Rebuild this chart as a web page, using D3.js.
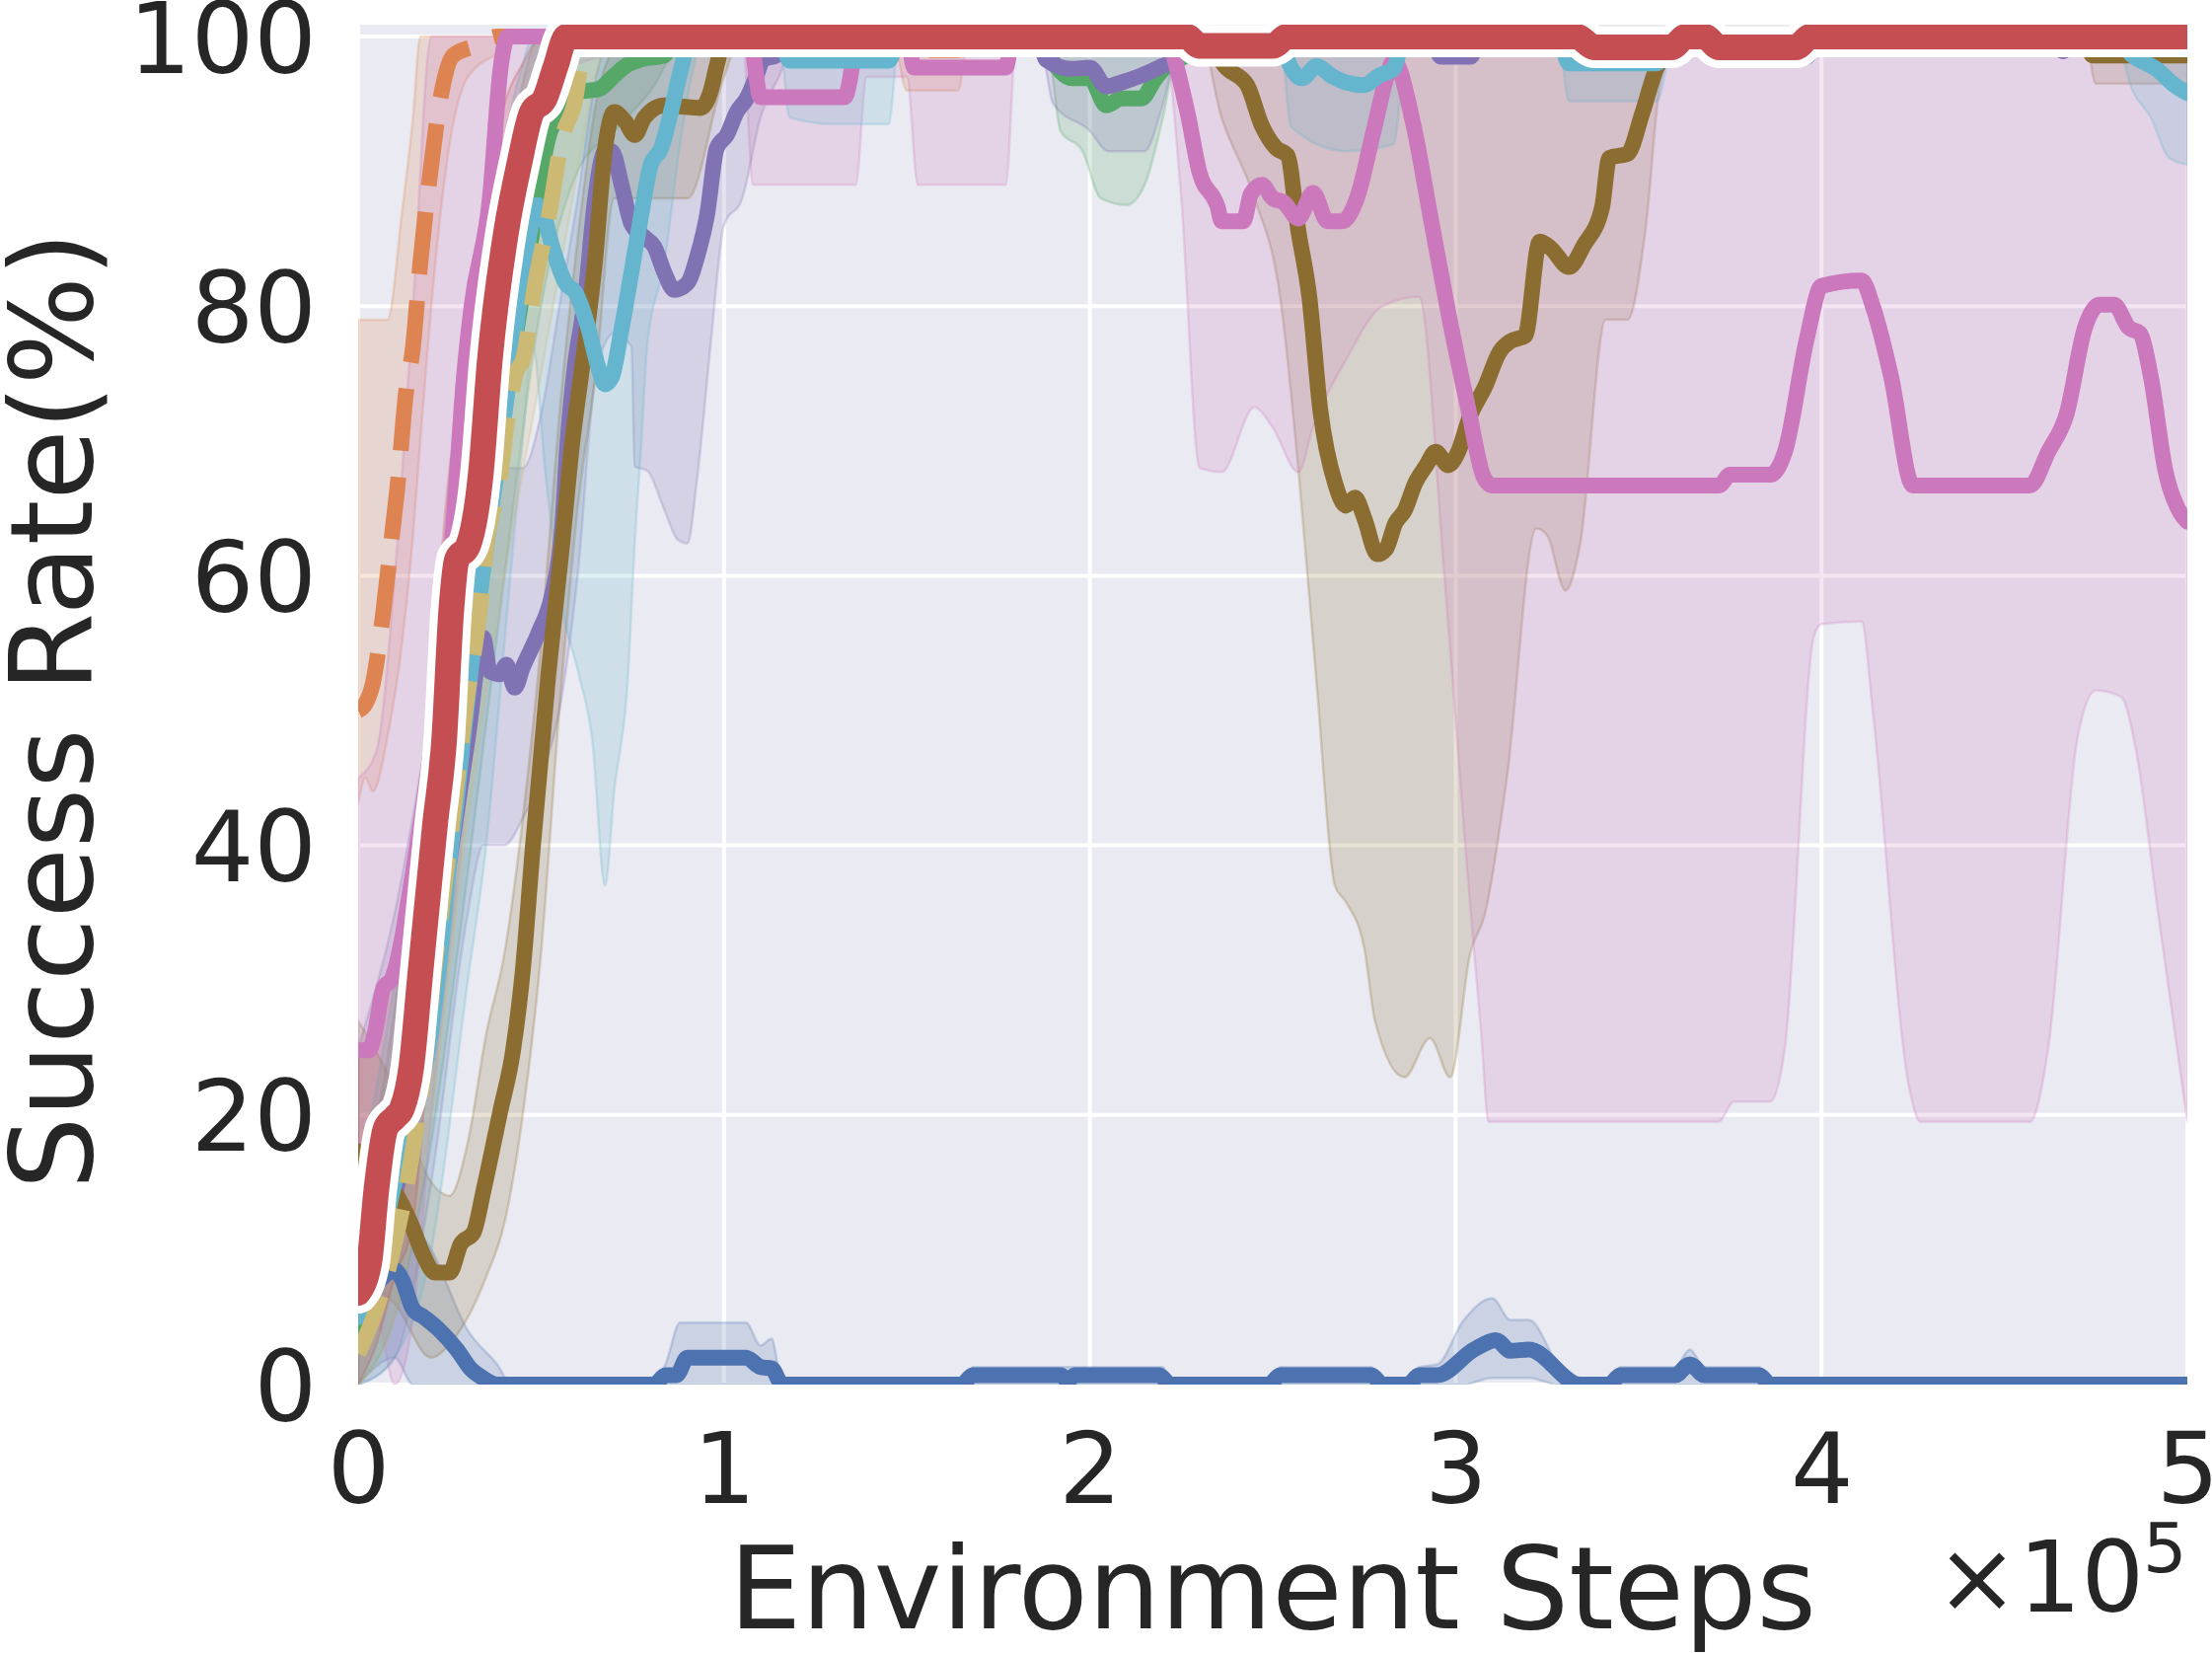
<!DOCTYPE html>
<html><head><meta charset="utf-8">
<script src="https://cdn.jsdelivr.net/npm/d3@7"></script>
<style>html,body{margin:0;padding:0;background:#fff;} svg{display:block;}</style>
</head><body><svg id="c" width="2242" height="1675"></svg>
<script>
// x values are in units of 1e5 environment steps; y is success rate in %
const xTicks = [0, 1, 2, 3, 4, 5];
const yTicks = [0, 20, 40, 60, 80, 100];

const blue = [[0,6],[0.05,7.5],[0.1,8.5],[0.12,7.8],[0.15,5.6],[0.18,5.0],[0.22,4.1],[0.27,2.6],[0.31,1.1],[0.34,0.5],[0.38,0],[0.81,0],[0.84,0.7],[0.87,0.7],[0.9,2],[1.06,2],[1.1,1.3],[1.13,1.2],[1.16,0],[1.65,0],[1.68,0.7],[1.92,0.7],[1.94,0.3],[1.96,0.7],[2.19,0.7],[2.22,0],[2.49,0],[2.52,0.7],[2.77,0.7],[2.8,0],[2.87,0],[2.9,0.7],[2.95,0.7],[3.05,2.6],[3.11,3.3],[3.15,2.5],[3.2,2.6],[3.34,0],[3.42,0],[3.45,0.7],[3.6,0.7],[3.64,1.5],[3.68,0.7],[3.83,0.7],[3.86,0],[5,0]];
const orange = [[0,50],[0.02,50.5],[0.04,52],[0.07,57.6],[0.09,62.4],[0.11,67.3],[0.13,73.4],[0.15,77],[0.17,83.2],[0.2,90.5],[0.225,95.4],[0.26,98.6],[0.32,99.3],[0.38,100],[1.48,100],[1.5,99],[1.64,99],[1.66,100],[5,100]];
const green = [[0,4],[0.05,8],[0.1,15],[0.15,25],[0.2,35],[0.25,45],[0.32,59],[0.37,68],[0.423,76.5],[0.477,85.6],[0.52,92.5],[0.56,94.5],[0.603,95.9],[0.657,96.1],[0.7,97.1],[0.73,97.8],[0.774,98.3],[0.837,98.6],[0.87,100],[1.87,100],[1.89,98.6],[1.92,97.4],[1.95,96.9],[2.0,96.9],[2.045,94.9],[2.087,95.4],[2.14,95.4],[2.18,96.9],[2.22,98.1],[2.265,98.6],[2.29,100],[5,100]];
const purple = [[0,8],[0.1,14],[0.2,30],[0.3,48],[0.342,55.4],[0.36,52.9],[0.388,52.7],[0.405,53.4],[0.428,51.7],[0.45,53.2],[0.495,55.9],[0.53,58.6],[0.558,63.7],[0.572,69.8],[0.59,75],[0.621,80.7],[0.648,88],[0.675,91.5],[0.693,91.5],[0.72,89],[0.747,86.1],[0.783,85.1],[0.81,84.4],[0.837,82.5],[0.864,81.2],[0.9,81.7],[0.927,83.7],[0.954,86.8],[0.98,91.7],[1.008,92.7],[1.035,94.4],[1.062,95.4],[1.089,97.1],[1.107,98.3],[1.143,98.6],[1.17,100],[1.86,100],[1.88,98.3],[1.95,97.6],[2.0,97.7],[2.045,96.3],[2.087,96.6],[2.14,97.1],[2.197,97.8],[2.22,98.1],[2.25,100],[2.93,100],[2.96,98.5],[3.04,98.5],[3.07,100],[3.71,100],[3.74,98.4],[3.82,98.4],[3.85,100],[3.94,100],[3.96,98.5],[3.99,100],[4.63,100],[4.66,98.9],[4.69,100],[5,100]];
const brown = [[0,17.3],[0.05,15.5],[0.1,14.3],[0.145,11.9],[0.18,9.5],[0.21,8.3],[0.25,8.3],[0.28,10.4],[0.316,11.3],[0.342,14.3],[0.388,20.2],[0.423,24.7],[0.45,30.7],[0.477,39.7],[0.52,52.7],[0.558,62.4],[0.585,69.8],[0.61,75],[0.647,83.2],[0.675,91.7],[0.7,94.4],[0.73,93.7],[0.756,92.7],[0.783,94],[0.837,94.9],[0.936,94.7],[0.963,95.9],[0.98,97.8],[1.0,99.7],[1.03,100],[2.3,100],[2.376,97.6],[2.43,96.4],[2.47,93.4],[2.51,91.7],[2.54,91.2],[2.57,85.6],[2.6,80.7],[2.63,72.3],[2.67,66.9],[2.7,65.2],[2.725,65.8],[2.75,64.3],[2.786,61.6],[2.81,62],[2.835,63.9],[2.86,64.8],[2.89,66.9],[2.92,68.2],[2.945,69.2],[2.98,68.2],[3.007,69.2],[3.04,71.9],[3.08,74],[3.12,76.6],[3.15,77.4],[3.19,77.8],[3.23,84.8],[3.26,84.3],[3.31,82.9],[3.35,84.5],[3.4,87.3],[3.42,91],[3.47,91.3],[3.51,94.3],[3.55,97.7],[3.58,98.8],[3.6,100],[4.72,100],[4.74,98.6],[5,98.6]];
const pink = [[0,24.8],[0.03,24.8],[0.045,26],[0.07,29.5],[0.09,30],[0.15,38],[0.22,52],[0.26,63.7],[0.29,75],[0.31,80],[0.36,88],[0.39,97.8],[0.41,100],[1.07,100],[1.1,95.5],[1.33,95.5],[1.37,100],[1.5,100],[1.52,97.7],[1.77,97.7],[1.79,100],[2.2,100],[2.265,94.6],[2.3,89.9],[2.35,87.3],[2.36,86.3],[2.42,86.3],[2.44,88.3],[2.47,89],[2.5,88],[2.53,87.7],[2.57,86.5],[2.61,88.4],[2.65,86.3],[2.69,86.3],[2.73,88],[2.775,92.9],[2.815,97.3],[2.83,98.2],[2.885,93.4],[2.93,86.8],[2.98,79.5],[3.036,72.2],[3.077,67.3],[3.1,66.7],[3.72,66.7],[3.75,67.5],[3.86,67.5],[3.9,69.2],[3.96,77.6],[4.0,81.5],[4.11,81.9],[4.14,80],[4.19,74.8],[4.25,66.7],[4.57,66.7],[4.62,69.2],[4.67,72],[4.72,78.4],[4.76,80.1],[4.8,80.1],[4.84,78.4],[4.87,78],[4.9,74.8],[4.94,67.8],[4.98,64.7],[5,64]];
const yellow = [[0,2.3],[0.046,5.3],[0.08,8.3],[0.145,16.7],[0.18,23.2],[0.208,30.7],[0.235,36.7],[0.262,42.8],[0.294,50.2],[0.333,57.6],[0.351,62.4],[0.388,67.3],[0.405,71],[0.432,75.1],[0.45,76],[0.486,82],[0.522,86.8],[0.558,92.5],[0.594,95.4],[0.608,97.8],[0.62,98.6],[0.65,100],[5,100]];
const cyan = [[0,5],[0.05,9],[0.1,15],[0.15,20],[0.2,26.2],[0.226,32.2],[0.253,39.7],[0.27,43.5],[0.28,46.1],[0.333,58.6],[0.38,68],[0.43,78],[0.46,84],[0.49,87.5],[0.51,86.5],[0.531,84.4],[0.567,81.7],[0.594,81],[0.63,78.3],[0.657,75.4],[0.675,74.2],[0.693,74.7],[0.72,78.3],[0.747,82.5],[0.774,86.8],[0.8,90.5],[0.828,91.7],[0.855,94.4],[0.88,97.3],[0.909,99.8],[0.93,100],[1.15,100],[1.18,98.2],[1.45,98.2],[1.48,100],[2.52,100],[2.54,98.3],[2.58,96.9],[2.62,97.8],[2.66,97.1],[2.7,96.6],[2.75,96.4],[2.79,97.1],[2.83,97.6],[2.86,100],[3.28,100],[3.31,98],[3.55,98],[3.58,100],[4.8,100],[4.85,98.6],[4.92,97.5],[4.96,96.5],[5,95.8]];
const red = [[0,6.8],[0.03,9],[0.05,14.5],[0.075,19],[0.1,19.8],[0.12,20.5],[0.145,23.5],[0.17,30.5],[0.21,41.5],[0.235,47.8],[0.255,57.6],[0.27,61.2],[0.3,62.2],[0.335,67.5],[0.36,76],[0.405,85.6],[0.44,90.5],[0.475,94.4],[0.51,95.4],[0.54,97.8],[0.57,100],[2.265,100],[2.3,99.3],[2.5,99.3],[2.54,100],[3.33,100],[3.38,99.2],[3.59,99.2],[3.63,100],[3.68,100],[3.72,99.2],[3.93,99.2],[3.97,100],[5,100]];

// confidence bands: [x, lower, upper]
const blueBand = [[0,0,15],[0.1,2,14],[0.15,0,12],[0.2,0,10],[0.3,0,4],[0.38,0,1.5],[0.42,0,0],[0.8,0,0],[0.84,0,1.5],[0.88,0,4.6],[1.06,0,4.6],[1.1,0,2.9],[1.13,0,3.4],[1.16,0,0],[1.66,0,0],[1.68,0,1.3],[1.93,0,1.3],[1.96,0,1.3],[2.2,0,1.3],[2.22,0,0],[2.5,0,0],[2.52,0,1.3],[2.77,0,1.3],[2.8,0,0],[2.87,0,0],[2.9,0,1.3],[2.95,0,1.5],[3.02,0,4.7],[3.1,0.5,6.4],[3.15,0.5,4.8],[3.2,0.5,4.8],[3.28,0,1.5],[3.34,0,0],[3.42,0,0],[3.45,0,1.3],[3.6,0,1.3],[3.64,0,2.6],[3.68,0,1.3],[3.83,0,1.3],[3.86,0,0],[5,0,0]];
const orangeBand = [[0,43,79],[0.02,45,79],[0.04,44,79],[0.08,48,79],[0.12,55,87],[0.15,63,94],[0.17,70,100],[0.2,80,100],[0.25,92,100],[0.3,97,100],[0.4,99,100],[0.45,100,100],[1.46,100,100],[1.5,96,100],[1.64,96,100],[1.67,100,100],[5,100,100]];
const greenBand = [[0,0,12],[0.1,5,28],[0.2,18,52],[0.3,38,75],[0.4,60,90],[0.5,80,100],[0.6,90,100],[0.7,93,100],[0.8,96,100],[0.9,100,100],[1.88,100,100],[1.92,93,100],[1.98,91.5,100],[2.03,88,100],[2.1,87.5,100],[2.15,89,100],[2.2,94,100],[2.25,100,100],[5,100,100]];
const purpleBand = [[0,0,25],[0.1,2,35],[0.2,15,50],[0.3,35,65],[0.342,40,70],[0.4,40,68],[0.45,42,68],[0.5,45,72],[0.55,50,80],[0.6,60,88],[0.65,75,97],[0.7,78,100],[0.747,77,100],[0.756,68.1,100],[0.79,67.8,100],[0.837,64.9,100],[0.873,62.7,100],[0.9,62.4,100],[0.927,67.3,100],[0.963,77,100],[1.0,86,100],[1.05,88,100],[1.1,94,100],[1.15,97,100],[1.2,100,100],[1.86,100,100],[1.9,95,100],[2.0,93,100],[2.05,91.5,100],[2.15,91.5,100],[2.2,95,100],[2.25,100,100],[5,100,100]];
const brownBand = [[0,8,27],[0.1,6,22],[0.2,2,15],[0.25,3,14],[0.3,5,18],[0.35,8,26],[0.4,12,32],[0.45,20,42],[0.5,32,55],[0.55,50,72],[0.6,65,85],[0.65,75,95],[0.7,88,99],[0.8,88,100],[0.9,88,100],[1.0,97,100],[1.05,100,100],[2.3,100,100],[2.36,94,100],[2.45,88,100],[2.52,80.7,100],[2.57,67.9,100],[2.62,52,100],[2.67,37,100],[2.7,35.8,100],[2.75,32.4,100],[2.78,26.9,100],[2.86,22.8,100],[2.93,25.7,100],[2.985,22.8,100],[3.04,32,100],[3.08,34.9,100],[3.14,45,100],[3.22,63.5,100],[3.25,63,100],[3.3,58.9,100],[3.34,62.3,100],[3.41,79,100],[3.47,79,100],[3.52,85.9,100],[3.56,96.6,100],[3.62,100,100],[4.72,100,100],[4.75,96.5,100],[5,96.5,100]];
const pinkBand = [[0,5,45],[0.05,5,47],[0.1,0,60],[0.15,5,80],[0.2,20,100],[0.3,45,100],[0.4,80,100],[0.5,97,100],[1.05,100,100],[1.08,89,100],[1.36,89,100],[1.39,97,100],[1.5,97,100],[1.53,89,100],[1.77,89,100],[1.8,100,100],[2.2,100,100],[2.25,88,100],[2.3,68,100],[2.36,67.7,100],[2.45,72.5,100],[2.5,71,100],[2.57,67.7,100],[2.61,71,100],[2.7,76,100],[2.8,80,100],[2.9,80.7,100],[2.97,59.7,100],[3.03,38.7,100],[3.07,26,100],[3.09,19.5,100],[3.72,19.5,100],[3.76,21,100],[3.86,21,100],[3.9,25,100],[3.98,55.6,100],[4.0,56.4,100],[4.11,56.6,100],[4.14,50,100],[4.24,22,100],[4.27,19.5,100],[4.57,19.5,100],[4.62,25,100],[4.7,48,100],[4.75,51.5,100],[4.82,51,100],[4.86,47,100],[4.92,35,100],[5,19.5,100]];
const yellowBand = [[0,0,8],[0.1,5,20],[0.2,20,40],[0.3,42,62],[0.4,60,80],[0.5,75,92],[0.6,90,100],[0.65,97,100],[0.7,100,100],[5,100,100]];
const cyanBand = [[0,0,15],[0.1,2,30],[0.2,10,50],[0.3,30,72],[0.35,40,82],[0.4,55,92],[0.45,70,98],[0.477,77,100],[0.513,67.3,100],[0.558,57.6,100],[0.603,52.7,100],[0.64,47.8,100],[0.675,37,100],[0.7,44,100],[0.738,52.7,100],[0.756,62.4,100],[0.774,69.8,100],[0.79,77,100],[0.837,83.2,100],[0.88,92,100],[0.93,99,100],[0.96,100,100],[1.15,100,100],[1.18,94,100],[1.3,93.5,100],[1.45,93.5,100],[1.48,100,100],[2.52,100,100],[2.55,93.3,100],[2.7,91.5,100],[2.83,92,100],[2.87,100,100],[3.28,100,100],[3.31,95.2,100],[3.55,95.2,100],[3.6,100,100],[4.8,100,100],[4.85,96,100],[4.9,94,100],[4.95,91,100],[5,90.5,100]];
const redBand = [[0,0,25],[0.05,3,26],[0.1,8,32],[0.15,12,38],[0.2,28,52],[0.25,45,68],[0.3,52,74],[0.35,62,88],[0.4,75,95],[0.45,84,98],[0.5,90,100],[0.55,96,100],[0.6,100,100],[2.26,100,100],[2.3,98.5,100],[2.5,98.5,100],[2.54,100,100],[5,100,100]];

const series = [
  {data: blue,   band: blueBand,   color: "#4C72B0"},
  {data: orange, band: orangeBand, color: "#DD8452", dash: true},
  {data: green,  band: greenBand,  color: "#55A868"},
  {data: purple, band: purpleBand, color: "#8172B3"},
  {data: brown,  band: brownBand,  color: "#8C6D31"},
  {data: pink,   band: pinkBand,   color: "#CC78BC"},
  {data: cyan,   band: cyanBand,   color: "#64B5CD"},
  {data: yellow, band: yellowBand, color: "#CCB974", dash: true},
  {data: red,    band: redBand,    color: "#C44E52", hero: true}
];

const svg = d3.select("#c");
const P = {left: 363, right: 2217, top: 25, bottom: 1403};
const x = d3.scaleLinear().domain([0, 5]).range([P.left, P.right]);
const y = d3.scaleLinear().domain([0, 100.88]).range([P.bottom, P.top]);
const FONT = "DejaVu Sans, sans-serif";
const TXT = "#262626";

svg.append("rect").attr("x",0).attr("y",0).attr("width",2242).attr("height",1675).attr("fill","#fff");
svg.append("rect").attr("x",P.left).attr("y",P.top).attr("width",P.right-P.left).attr("height",P.bottom-P.top).attr("fill","#EAEAF2");

svg.append("defs").append("clipPath").attr("id","clip")
  .append("rect").attr("x",P.left).attr("y",P.top).attr("width",P.right-P.left).attr("height",P.bottom-P.top);

// grid
const grid = svg.append("g");
grid.selectAll("line.v").data(xTicks).join("line")
  .attr("x1",d=>x(d)).attr("x2",d=>x(d)).attr("y1",P.top).attr("y2",P.bottom)
  .attr("stroke","#fff").attr("stroke-width",4);
grid.selectAll("line.h").data(yTicks).join("line")
  .attr("y1",d=>y(d)).attr("y2",d=>y(d)).attr("x1",P.left).attr("x2",P.right)
  .attr("stroke","#fff").attr("stroke-width",4);

const plotG = svg.append("g").attr("clip-path","url(#clip)");
const area = d3.area().x(d=>x(d[0])).y0(d=>y(d[1])).y1(d=>y(d[2])).curve(d3.curveMonotoneX);
const line = d3.line().x(d=>x(d[0])).y(d=>y(d[1])).curve(d3.curveMonotoneX);

series.forEach(s => {
  plotG.append("path").attr("d", area(s.band))
    .attr("fill", s.color).attr("fill-opacity", 0.2)
    .attr("stroke", s.color).attr("stroke-opacity", 0.25).attr("stroke-width", 2.5);
});

series.forEach(s => {
  if (s.hero) {
    plotG.append("path").attr("d", line(s.data)).attr("fill","none")
      .attr("stroke","#fff").attr("stroke-width",42).attr("stroke-linejoin","round").attr("stroke-linecap","round");
    plotG.append("path").attr("d", line(s.data)).attr("fill","none")
      .attr("stroke",s.color).attr("stroke-width",26).attr("stroke-linejoin","round").attr("stroke-linecap","round");
  } else {
    const p = plotG.append("path").attr("d", line(s.data)).attr("fill","none")
      .attr("stroke", s.color).attr("stroke-width", 16).attr("stroke-linejoin","round");
    if (s.dash) p.attr("stroke-dasharray","63,27").attr("stroke-linecap","butt");
    else p.attr("stroke-linecap","round");
  }
});

// axes
const ax = svg.append("g").attr("transform",`translate(0,${P.bottom})`)
  .call(d3.axisBottom(x).tickValues(xTicks).tickSize(0).tickPadding(49).tickFormat(d3.format("d")));
ax.select(".domain").remove();
ax.selectAll("text").attr("font-family",FONT).attr("font-size",100).attr("fill",TXT);

const ay = svg.append("g").attr("transform",`translate(${P.left},0)`)
  .call(d3.axisLeft(y).tickValues(yTicks).tickSize(0).tickPadding(42).tickFormat(d3.format("d")));
ay.select(".domain").remove();
ay.selectAll("text").attr("font-family",FONT).attr("font-size",100).attr("fill",TXT).attr("dy","0.36em");

svg.append("text").attr("x",(P.left+P.right)/2).attr("y",1650)
  .attr("text-anchor","middle").attr("font-family",FONT).attr("font-size",116).attr("fill",TXT)
  .text("Environment Steps");

svg.append("text").attr("transform","translate(93,720) rotate(-90)")
  .attr("text-anchor","middle").attr("font-family",FONT).attr("font-size",116).attr("fill",TXT)
  .text("Success Rate(%)");

svg.append("text").attr("x",1962).attr("y",1633)
  .attr("font-family",FONT).attr("font-size",100).attr("fill",TXT).text("×10");
svg.append("text").attr("x",2172).attr("y",1593)
  .attr("font-family",FONT).attr("font-size",70).attr("fill",TXT).text("5");
</script>
</body></html>
